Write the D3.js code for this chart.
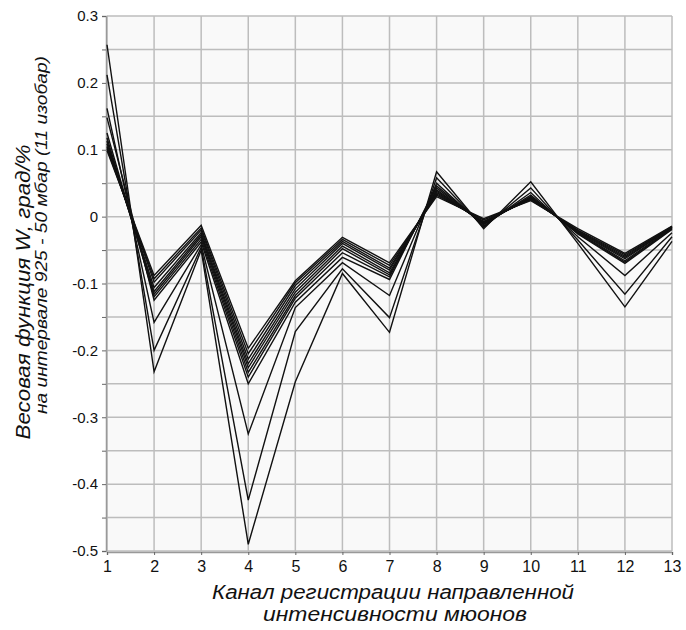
<!DOCTYPE html>
<html>
<head>
<meta charset="utf-8">
<script src="https://cdn.jsdelivr.net/npm/d3@7"></script>
<style>
  body { margin: 0; background: #fff; }
  text { font-family: "Liberation Sans", Arial, sans-serif; fill: #111; }
</style>
</head>
<body>
<svg id="chart" width="686" height="630"></svg>
<script>
// channels of directional muon intensity
var channels = [1, 2, 3, 4, 5, 6, 7, 8, 9, 10, 11, 12, 13];
var yTicks = [0.3, 0.2, 0.1, 0, -0.1, -0.2, -0.3, -0.4, -0.5];

// weight function for each of the 11 isobars (925 - 50 mbar)
var isobar1  = [0.257, -0.232, -0.050, -0.490, -0.247, -0.085, -0.173, 0.067, -0.018, 0.052, -0.040, -0.135, -0.037];
var isobar2  = [0.212, -0.200, -0.046, -0.424, -0.172, -0.078, -0.151, 0.058, -0.016, 0.043, -0.035, -0.116, -0.030];
var isobar3  = [0.162, -0.158, -0.042, -0.325, -0.136, -0.069, -0.118, 0.050, -0.014, 0.036, -0.030, -0.088, -0.024];
var isobar4  = [0.148, -0.125, -0.038, -0.250, -0.128, -0.061, -0.094, 0.046, -0.012, 0.032, -0.026, -0.070, -0.019];
var isobar5  = [0.125, -0.120, -0.034, -0.240, -0.122, -0.054, -0.090, 0.043, -0.011, 0.030, -0.025, -0.068, -0.018];
var isobar6  = [0.118, -0.116, -0.030, -0.233, -0.118, -0.048, -0.087, 0.040, -0.010, 0.029, -0.024, -0.066, -0.017];
var isobar7  = [0.113, -0.112, -0.027, -0.226, -0.113, -0.044, -0.084, 0.038, -0.009, 0.028, -0.023, -0.063, -0.016];
var isobar8  = [0.109, -0.106, -0.024, -0.220, -0.108, -0.040, -0.080, 0.036, -0.008, 0.027, -0.022, -0.061, -0.016];
var isobar9  = [0.105, -0.098, -0.020, -0.213, -0.103, -0.037, -0.077, 0.034, -0.007, 0.026, -0.021, -0.059, -0.015];
var isobar10 = [0.102, -0.093, -0.017, -0.205, -0.099, -0.034, -0.073, 0.032, -0.005, 0.025, -0.020, -0.057, -0.015];
var isobar11 = [0.099, -0.088, -0.013, -0.197, -0.096, -0.031, -0.069, 0.030, -0.003, 0.024, -0.018, -0.055, -0.014];

var series = [isobar1, isobar2, isobar3, isobar4, isobar5, isobar6,
              isobar7, isobar8, isobar9, isobar10, isobar11];

var margins = {top: 16, bottom: 79, left: 107, right: 14};
var width = 686;
var height = 630;
var plotWidth = width - margins.left - margins.right;
var plotHeight = height - margins.top - margins.bottom;

var svg = d3.select("#chart");

var x = d3.scaleLinear()
  .domain([1, 13])
  .range([margins.left, margins.left + plotWidth]);

var y = d3.scaleLinear()
  .domain([-0.5, 0.3])
  .range([margins.top + plotHeight, margins.top]);

// plot background
svg.append("rect")
  .attr("x", x(1))
  .attr("y", y(0.3))
  .attr("width", x(13) - x(1))
  .attr("height", y(-0.5) - y(0.3))
  .attr("fill", "#f9f9f9");

// grid every 0.05 and every channel
var gridY = d3.range(-0.5, 0.3001, 0.05);
svg.append("g").selectAll("line")
  .data(gridY)
  .enter()
  .append("line")
  .attr("x1", x(1)).attr("x2", x(13))
  .attr("y1", function(d){ return y(d); })
  .attr("y2", function(d){ return y(d); })
  .attr("stroke", "#bdbdbd")
  .attr("stroke-width", 1.5);

svg.append("g").selectAll("line")
  .data(channels)
  .enter()
  .append("line")
  .attr("x1", function(d){ return x(d); })
  .attr("x2", function(d){ return x(d); })
  .attr("y1", y(0.3)).attr("y2", y(-0.5))
  .attr("stroke", "#bdbdbd")
  .attr("stroke-width", 1.5);

// axes
var yAxis = d3.axisLeft(y)
  .tickValues(gridY)
  .tickSize(4)
  .tickFormat(function(d){
    var r = Math.round(d * 100) / 100;
    if (Math.abs(r * 10 - Math.round(r * 10)) > 0.001) return "";
    return r === 0 ? "0" : String(r);
  });

var gy = svg.append("g")
  .attr("transform", "translate(" + (x(1) - 1) + ",0)")
  .call(yAxis);
gy.select(".domain").attr("stroke", "#999").attr("stroke-width", 1.5);
gy.selectAll(".tick line").attr("stroke", "#666");
gy.selectAll(".tick text")
  .attr("x", -8)
  .style("font-size", "15px")
  .style("font-family", "Liberation Sans, Arial, sans-serif")
  .attr("fill", "#111");

var xAxis = d3.axisBottom(x)
  .tickValues(channels)
  .tickSize(3)
  .tickFormat(d3.format("d"));

var gx = svg.append("g")
  .attr("transform", "translate(0," + (y(-0.5) + 1) + ")")
  .call(xAxis);
gx.select(".domain").attr("stroke", "#999").attr("stroke-width", 1.5);
gx.selectAll(".tick line").attr("stroke", "#666");
gx.selectAll(".tick text")
  .attr("y", 9)
  .style("font-size", "16px")
  .style("font-family", "Liberation Sans, Arial, sans-serif")
  .attr("fill", "#111");

// lines
var line = d3.line()
  .x(function(d, i){ return x(channels[i]); })
  .y(function(d){ return y(d); });

svg.append("g").selectAll("path")
  .data(series)
  .enter()
  .append("path")
  .attr("d", line)
  .attr("fill", "none")
  .attr("stroke", "#111")
  .attr("stroke-width", 1.4)
  .attr("stroke-linejoin", "miter");

// axis titles
svg.append("text")
  .attr("x", 393)
  .attr("y", 599)
  .attr("text-anchor", "middle")
  .attr("textLength", 362)
  .attr("lengthAdjust", "spacingAndGlyphs")
  .style("font-size", "20px")
  .style("font-style", "italic")
  .text("Канал регистрации направленной");

svg.append("text")
  .attr("x", 395)
  .attr("y", 621)
  .attr("text-anchor", "middle")
  .attr("textLength", 264)
  .attr("lengthAdjust", "spacingAndGlyphs")
  .style("font-size", "20px")
  .style("font-style", "italic")
  .text("интенсивности мюонов");

svg.append("text")
  .attr("transform", "translate(30,292) rotate(-90)")
  .attr("text-anchor", "middle")
  .attr("textLength", 295)
  .attr("lengthAdjust", "spacingAndGlyphs")
  .style("font-size", "21px")
  .style("font-style", "italic")
  .text("Весовая функция W, град/%");

svg.append("text")
  .attr("transform", "translate(47,235) rotate(-90)")
  .attr("text-anchor", "middle")
  .attr("textLength", 358)
  .attr("lengthAdjust", "spacingAndGlyphs")
  .style("font-size", "16px")
  .style("font-style", "italic")
  .style("font-weight", "normal")
  .text("на интервале 925 - 50 мбар (11 изобар)");
</script>
</body>
</html>
